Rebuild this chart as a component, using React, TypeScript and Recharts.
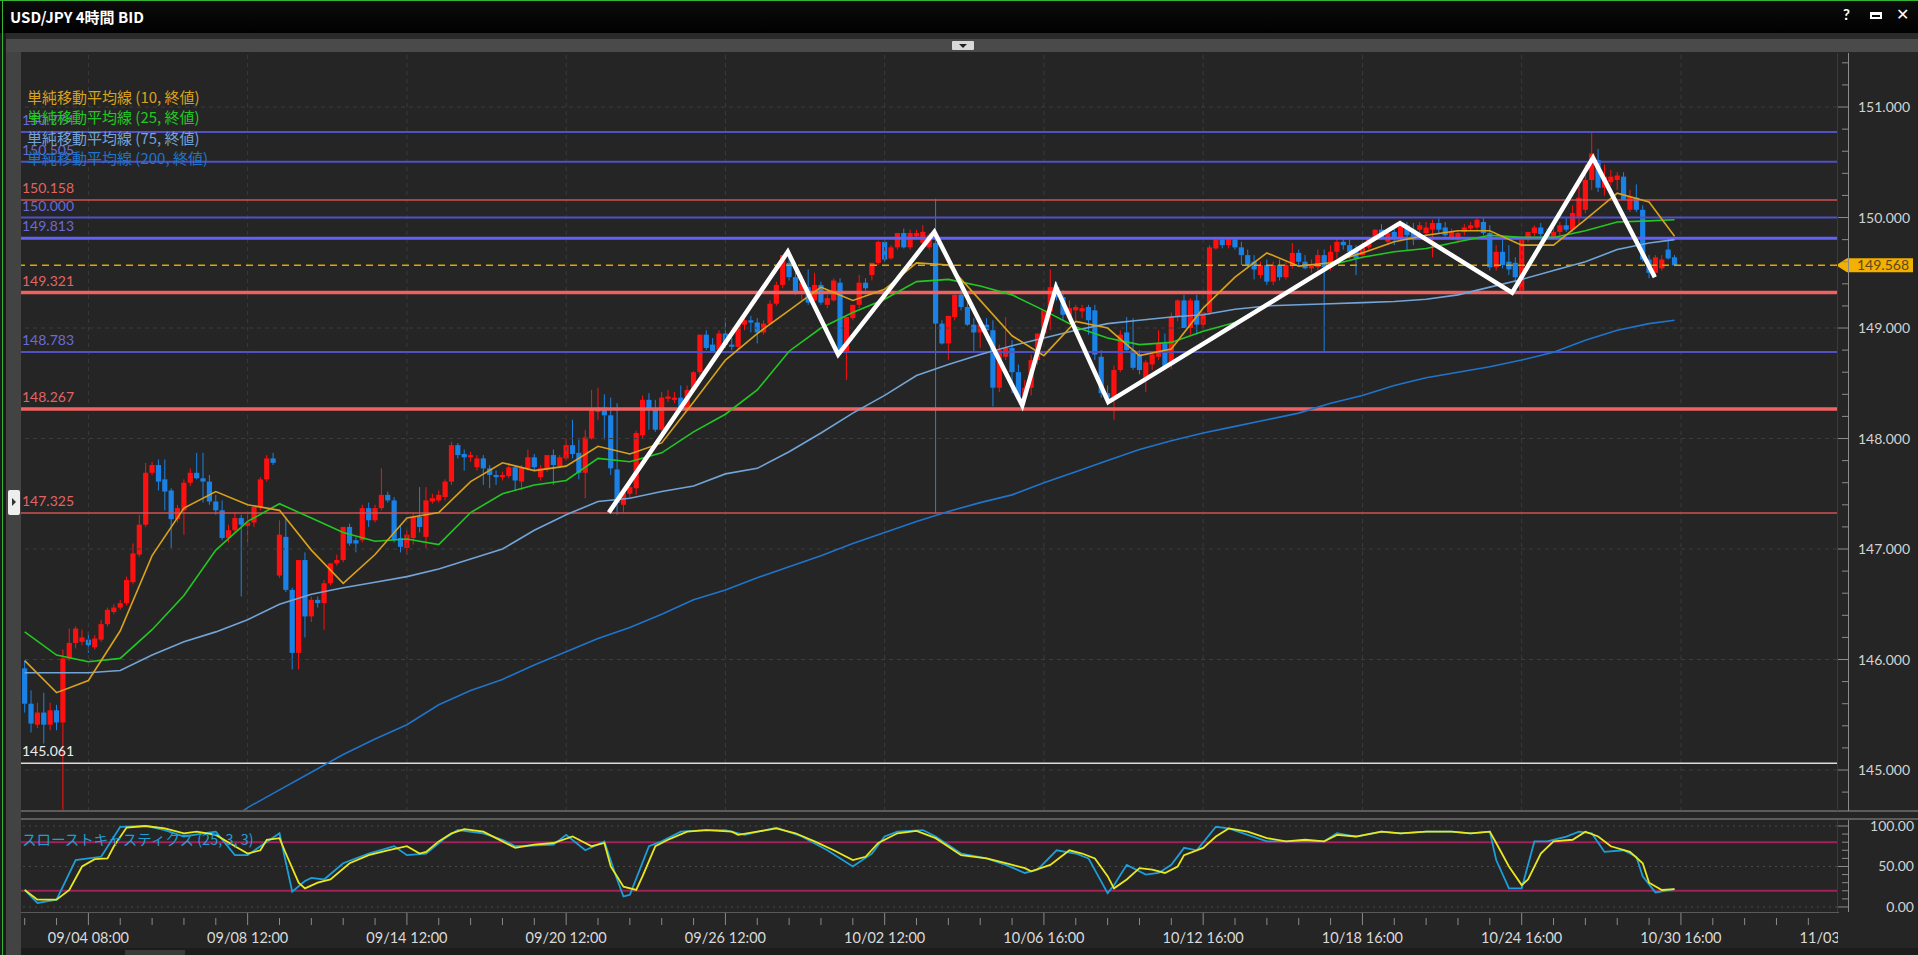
import React from 'react';
import { ComposedChart, Bar, Line, XAxis, YAxis, ReferenceLine } from 'recharts';

const NUM_FONT = 'Lato, "Open Sans", sans-serif';
const JP_FONT = '"Noto Sans CJK JP", "Noto Sans", sans-serif';

/* 4時間足 OHLC, i = 0..259 */
const opens = [
  145.92, 145.60, 145.41, 145.52, 145.41, 145.54, 145.43, 146.01, 146.15, 146.16,
  146.18, 146.11, 146.18, 146.32, 146.43, 146.47, 146.51, 146.70, 146.95, 147.22,
  147.69, 147.76, 147.63, 147.53, 147.27, 147.35, 147.60, 147.69, 147.64, 147.61,
  147.43, 147.35, 147.10, 147.17, 147.28, 147.21, 147.24, 147.38, 147.63, 147.82,
  146.76, 147.11, 146.63, 146.06, 146.90, 146.39, 146.54, 146.51, 146.69, 146.87,
  146.90, 147.20, 147.08, 147.08, 147.37, 147.26, 147.37, 147.49, 147.44, 147.10,
  147.01, 147.10, 147.29, 147.11, 147.43, 147.44, 147.47, 147.61, 147.94, 147.86,
  147.83, 147.74, 147.82, 147.73, 147.67, 147.65, 147.66, 147.74, 147.61, 147.73,
  147.83, 147.65, 147.72, 147.85, 147.75, 147.82, 147.94, 147.87, 147.69, 148.00,
  148.24, 148.28, 148.21, 147.72, 147.40, 147.50, 147.55, 148.03, 148.35, 148.26,
  148.08, 148.36, 148.35, 148.37, 148.28, 148.44, 148.60, 148.94, 148.85, 148.80,
  148.95, 148.85, 148.83, 149.03, 149.07, 149.05, 148.96, 149.04, 149.22, 149.39,
  149.59, 149.46, 149.34, 149.37, 149.25, 149.39, 149.21, 149.25, 149.41, 148.78,
  149.09, 149.21, 149.41, 149.48, 149.59, 149.78, 149.63, 149.73, 149.86, 149.73,
  149.83, 149.77, 149.73, 149.77, 149.04, 148.86, 149.10, 149.30, 149.19, 149.03,
  148.96, 149.03, 148.98, 148.46, 148.74, 148.82, 148.60, 148.38, 148.46, 148.71,
  148.95, 149.15, 149.37, 149.28, 149.09, 149.16, 149.15, 149.19, 149.16, 148.74,
  148.41, 148.37, 148.62, 148.96, 148.80, 148.76, 148.55, 148.67, 148.74, 148.86,
  148.68, 149.10, 149.25, 149.00, 149.25, 149.03, 149.14, 149.72, 149.80, 149.75,
  149.80, 149.73, 149.66, 149.60, 149.48, 149.57, 149.42, 149.57, 149.46, 149.57,
  149.68, 149.60, 149.54, 149.55, 149.66, 149.55, 149.69, 149.78, 149.75, 149.71,
  149.66, 149.73, 149.82, 149.89, 149.78, 149.87, 149.82, 149.93, 149.89, 149.89,
  149.86, 149.89, 149.95, 149.91, 149.82, 149.81, 149.87, 149.90, 149.91, 149.96,
  149.86, 149.55, 149.69, 149.60, 149.59, 149.34, 149.80, 149.86, 149.91, 149.85,
  149.82, 149.87, 149.93, 149.89, 150.00, 150.07, 150.34, 150.52, 150.27, 150.32,
  150.34, 150.37, 150.07, 150.18, 150.07, 149.62, 149.50, 149.54, 149.71, 149.64,
];
const highs = [
  145.99, 145.72, 145.61, 145.70, 145.61, 145.59, 146.09, 146.28, 146.30, 146.27,
  146.25, 146.22, 146.36, 146.47, 146.50, 146.54, 146.75, 147.05, 147.31, 147.78,
  147.79, 147.81, 147.81, 147.55, 147.40, 147.63, 147.73, 147.87, 147.87, 147.67,
  147.49, 147.44, 147.22, 147.33, 147.31, 147.33, 147.40, 147.65, 147.85, 147.87,
  147.26, 147.29, 146.65, 146.90, 146.97, 146.57, 146.57, 146.72, 146.87, 146.95,
  147.20, 147.23, 147.11, 147.40, 147.42, 147.40, 147.73, 147.52, 147.47, 147.22,
  147.17, 147.33, 147.56, 147.56, 147.50, 147.53, 147.63, 147.97, 147.96, 147.90,
  147.88, 147.85, 147.85, 147.76, 147.71, 147.70, 147.78, 147.76, 147.76, 147.90,
  147.86, 147.76, 147.85, 147.90, 147.85, 148.00, 148.17, 147.99, 148.08, 148.44,
  148.46, 148.40, 148.37, 148.32, 147.55, 147.63, 148.07, 148.39, 148.41, 148.35,
  148.42, 148.44, 148.42, 148.48, 148.48, 148.61, 148.94, 148.98, 148.91, 148.98,
  149.09, 148.91, 149.07, 149.12, 149.11, 149.09, 149.07, 149.25, 149.42, 149.66,
  149.69, 149.57, 149.48, 149.53, 149.50, 149.42, 149.30, 149.45, 149.45, 149.10,
  149.21, 149.48, 149.45, 149.59, 149.79, 149.81, 149.75, 149.86, 149.90, 149.89,
  149.89, 149.93, 149.86, 150.17, 149.07, 149.11, 149.30, 149.39, 149.25, 149.09,
  149.07, 149.09, 149.07, 148.85, 149.10, 148.89, 148.67, 148.53, 148.76, 148.95,
  149.16, 149.53, 149.42, 149.34, 149.25, 149.21, 149.21, 149.21, 149.21, 148.80,
  148.48, 148.66, 148.98, 149.10, 149.09, 148.80, 148.71, 148.78, 148.98, 148.95,
  149.14, 149.26, 149.30, 149.27, 149.30, 149.14, 149.75, 149.82, 149.82, 149.81,
  149.82, 149.78, 149.71, 149.66, 149.60, 149.62, 149.60, 149.62, 149.60, 149.77,
  149.71, 149.66, 149.62, 149.71, 149.71, 149.75, 149.81, 149.81, 149.80, 149.75,
  149.78, 149.82, 149.89, 149.94, 149.89, 149.90, 149.93, 149.96, 149.95, 149.96,
  149.96, 149.98, 150.00, 149.96, 149.90, 149.88, 149.94, 149.96, 150.00, 150.00,
  149.93, 149.75, 149.80, 149.75, 149.64, 149.80, 149.87, 149.93, 149.95, 149.90,
  149.93, 149.96, 150.00, 150.11, 150.29, 150.48, 150.77, 150.62, 150.48, 150.43,
  150.41, 150.41, 150.25, 150.30, 150.11, 149.66, 149.66, 149.66, 149.81, 149.66,
];
const lows = [
  145.52, 145.34, 145.38, 145.24, 145.36, 145.36, 144.64, 145.99, 146.10, 146.13,
  146.06, 146.09, 146.16, 146.30, 146.41, 146.45, 146.49, 146.68, 146.93, 147.20,
  147.67, 147.53, 147.35, 147.01, 147.24, 147.13, 147.57, 147.63, 147.42, 147.40,
  147.31, 147.08, 147.06, 147.15, 146.57, 147.06, 147.20, 147.35, 147.61, 147.76,
  146.74, 146.61, 145.91, 145.91, 146.20, 146.34, 146.47, 146.27, 146.67, 146.85,
  146.88, 147.03, 146.97, 147.06, 147.20, 147.24, 147.35, 147.42, 147.06, 146.97,
  146.95, 147.04, 147.15, 147.01, 147.41, 147.42, 147.44, 147.58, 147.82, 147.71,
  147.79, 147.71, 147.58, 147.55, 147.58, 147.62, 147.64, 147.53, 147.53, 147.71,
  147.71, 147.62, 147.70, 147.58, 147.73, 147.80, 147.82, 147.63, 147.46, 147.99,
  148.17, 147.99, 147.67, 147.31, 147.33, 147.46, 147.49, 148.00, 148.08, 148.06,
  148.05, 148.33, 148.32, 148.25, 148.25, 148.42, 148.57, 148.80, 148.78, 148.78,
  148.82, 148.80, 148.80, 148.98, 148.96, 148.86, 148.94, 149.03, 149.20, 149.36,
  149.43, 149.30, 149.25, 149.21, 149.24, 149.21, 149.18, 149.24, 148.78, 148.53,
  149.07, 149.18, 149.34, 149.43, 149.57, 149.60, 149.62, 149.71, 149.72, 149.71,
  149.81, 149.75, 149.71, 147.32, 148.85, 148.71, 149.07, 149.16, 149.02, 148.78,
  148.82, 148.89, 148.29, 148.42, 148.71, 148.41, 148.35, 148.30, 148.39, 148.67,
  148.89, 148.98, 149.25, 149.07, 149.05, 149.07, 149.09, 148.94, 148.71, 148.37,
  148.30, 148.17, 148.60, 148.78, 148.62, 148.58, 148.42, 148.62, 148.71, 148.62,
  148.63, 149.06, 149.00, 148.94, 148.94, 149.00, 149.12, 149.71, 149.72, 149.72,
  149.71, 149.57, 149.54, 149.44, 149.45, 149.39, 149.39, 149.43, 149.44, 149.54,
  149.57, 149.53, 149.50, 149.52, 148.78, 149.52, 149.63, 149.71, 149.63, 149.48,
  149.63, 149.71, 149.80, 149.80, 149.75, 149.75, 149.79, 149.70, 149.75, 149.84,
  149.83, 149.64, 149.86, 149.81, 149.80, 149.77, 149.84, 149.88, 149.89, 149.84,
  149.52, 149.52, 149.54, 149.48, 149.41, 149.32, 149.78, 149.83, 149.82, 149.80,
  149.80, 149.84, 149.87, 149.87, 149.93, 150.04, 150.25, 150.23, 150.20, 150.29,
  150.25, 150.16, 150.05, 150.05, 149.60, 149.45, 149.48, 149.52, 149.62, 149.56,
];
const closes = [
  145.60, 145.42, 145.52, 145.41, 145.54, 145.43, 146.01, 146.15, 146.28, 146.20,
  146.13, 146.19, 146.32, 146.45, 146.47, 146.51, 146.72, 146.96, 147.22, 147.69,
  147.76, 147.61, 147.52, 147.27, 147.37, 147.60, 147.69, 147.64, 147.61, 147.43,
  147.35, 147.10, 147.17, 147.28, 147.22, 147.24, 147.38, 147.63, 147.82, 147.78,
  147.13, 146.63, 146.06, 146.90, 146.39, 146.54, 146.51, 146.69, 146.87, 146.90,
  147.20, 147.05, 147.05, 147.37, 147.26, 147.37, 147.49, 147.44, 147.08, 147.02,
  147.13, 147.29, 147.20, 147.44, 147.46, 147.49, 147.61, 147.94, 147.85, 147.83,
  147.85, 147.82, 147.73, 147.67, 147.65, 147.67, 147.74, 147.62, 147.74, 147.83,
  147.74, 147.73, 147.85, 147.76, 147.83, 147.94, 147.86, 147.69, 148.01, 148.26,
  148.28, 148.21, 147.73, 147.42, 147.51, 147.56, 148.05, 148.35, 148.26, 148.08,
  148.37, 148.38, 148.37, 148.28, 148.44, 148.60, 148.94, 148.82, 148.78, 148.95,
  148.85, 148.83, 149.03, 149.07, 149.05, 148.96, 149.04, 149.22, 149.39, 149.66,
  149.46, 149.33, 149.41, 149.23, 149.39, 149.23, 149.27, 149.43, 148.78, 149.10,
  149.21, 149.41, 149.36, 149.59, 149.78, 149.62, 149.73, 149.86, 149.73, 149.86,
  149.86, 149.87, 149.84, 149.04, 148.86, 149.11, 149.30, 149.19, 149.03, 148.96,
  149.03, 148.98, 148.46, 148.80, 148.82, 148.60, 148.38, 148.46, 148.71, 148.95,
  149.16, 149.37, 149.28, 149.12, 149.18, 149.19, 149.18, 149.07, 148.76, 148.41,
  148.37, 148.62, 148.94, 148.80, 148.64, 148.62, 148.69, 148.76, 148.86, 148.65,
  149.10, 149.25, 149.00, 149.25, 149.03, 149.14, 149.73, 149.80, 149.75, 149.80,
  149.73, 149.66, 149.57, 149.53, 149.57, 149.42, 149.57, 149.46, 149.57, 149.68,
  149.60, 149.54, 149.58, 149.66, 149.55, 149.69, 149.78, 149.75, 149.69, 149.63,
  149.73, 149.82, 149.89, 149.82, 149.86, 149.81, 149.93, 149.84, 149.80, 149.93,
  149.91, 149.95, 149.89, 149.84, 149.87, 149.86, 149.91, 149.93, 149.98, 149.86,
  149.55, 149.69, 149.57, 149.53, 149.46, 149.80, 149.87, 149.91, 149.85, 149.82,
  149.87, 149.93, 149.89, 150.04, 150.18, 150.34, 150.58, 150.27, 150.37, 150.37,
  150.38, 150.16, 150.19, 150.07, 149.62, 149.50, 149.64, 149.62, 149.63, 149.568,
];
const lastPrice = 149.568;

/* 単純移動平均線 — 読み取り値 (5本ごと) */
const maAt = [
  0, 5, 10, 15, 20, 25, 30, 35, 40, 45, 50, 55, 60, 65, 70, 75, 80, 85, 90, 95,
  100, 105, 110, 115, 120, 125, 130, 135, 140, 145, 150, 155, 160, 165, 170, 175,
  180, 185, 190, 195, 200, 205, 210, 215, 220, 225, 230, 235, 240, 245, 250, 255, 259,
];
const ma10Vals = [
  145.99, 145.70, 145.81, 146.26, 146.94, 147.37, 147.52, 147.40, 147.35, 146.99,
  146.69, 146.95, 147.28, 147.33, 147.61, 147.78, 147.71, 147.75, 147.93, 147.86,
  147.96, 148.33, 148.71, 148.95, 149.16, 149.37, 149.25, 149.35, 149.59, 149.57,
  149.25, 148.93, 148.75, 149.06, 149.00, 148.75, 148.81, 149.18, 149.46, 149.68,
  149.56, 149.59, 149.68, 149.78, 149.84, 149.88, 149.88, 149.75, 149.75, 149.98,
  150.22, 150.14, 149.83,
];
const ma25Vals = [
  146.25, 146.04, 145.98, 146.01, 146.27, 146.58, 146.99, 147.25, 147.41, 147.28,
  147.15, 147.07, 147.09, 147.04, 147.33, 147.50, 147.58, 147.62, 147.82, 147.79,
  147.87, 148.06, 148.22, 148.44, 148.79, 149.00, 149.14, 149.26, 149.42, 149.44,
  149.38, 149.30, 149.16, 149.01, 148.91, 148.85, 148.87, 148.97, 149.05, 149.21,
  149.39, 149.57, 149.64, 149.69, 149.72, 149.78, 149.84, 149.82, 149.82, 149.88,
  149.96, 149.97, 149.98,
];
const ma75Vals = [
  145.88, 145.88, 145.88, 145.90, 146.04, 146.16, 146.25, 146.36, 146.50, 146.59,
  146.65, 146.70, 146.75, 146.82, 146.91, 147.00, 147.17, 147.31, 147.43, 147.46,
  147.52, 147.57, 147.68, 147.73, 147.88, 148.05, 148.23, 148.39, 148.57, 148.67,
  148.76, 148.84, 148.91, 148.98, 149.04, 149.07, 149.10, 149.12, 149.17, 149.20,
  149.21, 149.22, 149.23, 149.24, 149.26, 149.30, 149.37, 149.44, 149.52, 149.60,
  149.71, 149.77, 149.80,
];
const ma200At = [
  30, 35, 40, 45, 50, 55, 60, 65, 70, 75, 80, 85, 90, 95, 100, 105, 110, 115, 120,
  125, 130, 135, 140, 145, 150, 155, 160, 165, 170, 175, 180, 185, 190, 195, 200,
  205, 210, 215, 220, 225, 230, 235, 240, 245, 250, 255, 259,
];
const ma200Vals = [
  144.46, 144.66, 144.82, 144.98, 145.14, 145.28, 145.41, 145.59, 145.72, 145.82,
  145.95, 146.07, 146.19, 146.29, 146.41, 146.54, 146.63, 146.74, 146.84, 146.94,
  147.05, 147.15, 147.25, 147.34, 147.42, 147.49, 147.60, 147.70, 147.80, 147.90,
  147.98, 148.05, 148.11, 148.17, 148.23, 148.32, 148.39, 148.48, 148.55, 148.60,
  148.65, 148.71, 148.78, 148.89, 148.98, 149.04, 149.07,
];

/* 手描きのジグザグ (白線) */
const zigAt = [91.7, 119.8, 127.7, 142.8, 156.6, 161.9, 170.1, 215.9, 233.5, 246.2, 255.9];
const zigVals = [147.33, 149.69, 148.76, 149.87, 148.30, 149.37, 148.33, 149.95, 149.32, 150.54, 149.46];

/* 水平ライン */
const levels = [150.774, 150.505, 150.158, 150.0, 149.813, 149.321, 148.783, 148.267, 147.325, 145.061];
const levelKinds = ['blue', 'blue', 'red', 'blue', 'blueStrong', 'redStrong', 'blue', 'redStrong', 'red', 'white'];
const levelStyle: Record<string, { stroke: string; width: number; text: string }> = {
  blue: { stroke: '#5151c4', width: 2, text: '#6a6ad8' },
  blueStrong: { stroke: '#6262f5', width: 3, text: '#6a6ad8' },
  red: { stroke: '#cf5252', width: 1.5, text: '#e06464' },
  redStrong: { stroke: '#f06262', width: 3.5, text: '#e06464' },
  white: { stroke: '#dcdcdc', width: 1.5, text: '#ececec' },
};

/* スローストキャスティクス (25,3,3) */
const kAt = [
  0, 2, 5, 8, 10, 12, 15, 19, 22, 25, 28, 30, 33, 35, 37, 40, 42, 44, 45, 47, 50, 54, 58, 60,
  63, 66, 68, 72, 75, 77, 83, 85, 88, 91, 93, 94, 95, 98, 100, 103, 107, 110, 113, 118, 122,
  126, 130, 133, 135, 137, 141, 143, 147, 151, 154, 157, 159, 162, 165, 167, 170, 171, 173,
  176, 178, 180, 182, 184, 187, 189, 192, 195, 198, 201, 204, 206, 209, 213, 216, 220, 224,
  227, 230, 231, 233, 235, 237, 239, 242, 244, 246, 248, 251, 253, 254, 256, 259,
];
const kVals = [
  21, 5, 9, 58, 60, 62, 99, 100, 95, 87, 91, 93, 64, 64, 75, 91, 19, 32, 36, 34, 54, 66, 75, 64,
  66, 85, 95, 91, 83, 75, 77, 89, 70, 81, 34, 13, 15, 75, 81, 93, 95, 95, 89, 98, 87,
  70, 50, 66, 87, 93, 95, 87, 66, 60, 52, 42, 46, 70, 66, 60, 17, 27, 52,
  40, 42, 52, 73, 70, 99, 97, 89, 81, 81, 81, 81, 91, 87, 93, 91, 93, 93,
  91, 93, 58, 23, 23, 81, 81, 87, 93, 91, 68, 70, 62, 38, 18, 22,
];
const dAt = [
  0, 2, 5, 7, 9, 11, 13, 14, 16, 19, 22, 25, 27, 30, 33, 35, 37, 38, 40, 41, 43, 44, 46, 48,
  51, 54, 57, 60, 62, 63, 65, 67, 69, 72, 74, 77, 80, 83, 86, 88, 89, 91, 92, 94, 96, 97, 99,
  101, 104, 107, 111, 112, 115, 118, 121, 124, 127, 130, 132, 134, 137, 140, 143, 147, 151,
  154, 157, 158, 161, 164, 166, 168, 170, 171, 173, 175, 177, 179, 181, 182, 185, 187, 189,
  192, 195, 198, 201, 204, 206, 209, 213, 216, 220, 224, 227, 230, 231, 233, 235, 236, 238,
  240, 243, 245, 247, 249, 252, 254, 255, 257, 259,
];
const dVals = [
  21, 9, 9, 21, 50, 59, 60, 75, 98, 100, 97, 91, 93, 89, 75, 66, 70, 83, 85, 66, 30, 23, 30, 34,
  54, 64, 70, 75, 66, 68, 81, 91, 96, 93, 85, 73, 77, 79, 87, 79, 75, 79, 50, 25, 21, 38, 75,
  83, 93, 95, 93, 89, 93, 97, 91, 81, 70, 58, 62, 79, 91, 94, 85, 64, 60,
  54, 48, 44, 52, 70, 66, 60, 38, 23, 34, 48, 46, 42, 50, 64, 73, 87, 97,
  93, 85, 81, 83, 81, 89, 87, 93, 91, 93, 93, 91, 93, 79, 50, 27, 34, 66,
  81, 83, 93, 87, 75, 68, 54, 30, 21, 22,
];

/* 軸 */
const priceTicks = [
  144.8, 145.0, 145.2, 145.4, 145.6, 145.8, 146.0, 146.2, 146.4, 146.6, 146.8, 147.0,
  147.2, 147.4, 147.6, 147.8, 148.0, 148.2, 148.4, 148.6, 148.8, 149.0, 149.2, 149.4,
  149.6, 149.8, 150.0, 150.2, 150.4, 150.6, 150.8, 151.0, 151.2, 151.4,
];
const priceGrid = [145, 146, 147, 148, 149, 150, 151];
const stochTicks = [0, 10, 20, 30, 40, 50, 60, 70, 80, 90, 100];
const timeTickAt = [
  0, 5, 10, 15, 20, 25, 30, 35, 40, 45, 50, 55, 60, 65, 70, 75, 80, 85, 90, 95, 100, 105,
  110, 115, 120, 125, 130, 135, 140, 145, 150, 155, 160, 165, 170, 175, 180, 185, 190, 195,
  200, 205, 210, 215, 220, 225, 230, 235, 240, 245, 250, 255, 260, 265, 270, 275, 280, 285,
];
const timeLabelAt = [10, 35, 60, 85, 110, 135, 160, 185, 210, 235, 260, 285];
const timeLabels = [
  '09/04 08:00', '09/08 12:00', '09/14 12:00', '09/20 12:00', '09/26 12:00', '10/02 12:00',
  '10/06 16:00', '10/12 16:00', '10/18 16:00', '10/24 16:00', '10/30 16:00', '11/03 16:00',
];
const maLegend = ['単純移動平均線 (10, 終値)', '単純移動平均線 (25, 終値)', '単純移動平均線 (75, 終値)', '単純移動平均線 (200, 終値)'];
const maColors = ['#d9a21c', '#22c822', '#72a4d8', '#1f74cc'];

const X_DOMAIN: [number, number] = [-0.58, 284.5];
const Y_DOMAIN: [number, number] = [144.629, 151.489];
const S_DOMAIN: [number, number] = [-6.2, 107.4];
const UP = '#ff1010';
const DOWN = '#1a82e6';

const candles = opens.map((o, k) => ({
  i: k, o, h: highs[k], l: lows[k], c: closes[k], range: [lows[k], highs[k]],
}));
const toPts = (at: number[], vals: number[]) => at.map((i, k) => ({ i, v: vals[k] }));
const ma10 = toPts(maAt, ma10Vals);
const ma25 = toPts(maAt, ma25Vals);
const ma75 = toPts(maAt, ma75Vals);
const ma200 = toPts(ma200At, ma200Vals);
const zig = toPts(zigAt, zigVals);
const stochK = toPts(kAt, kVals);
const stochD = toPts(dAt, dVals);

function Candle(props: any) {
  const { x, y, width, height, payload } = props;
  if (!payload || x == null) return null;
  const { o, h, l, c } = payload;
  const top = Math.min(y, y + height);
  const bot = Math.max(y, y + height);
  const span = h - l || 1e-9;
  const toY = (v: number) => top + ((h - v) / span) * (bot - top);
  const cx = x + width / 2;
  const color = c >= o ? UP : DOWN;
  const yo = toY(o);
  const yc = toY(c);
  return (
    <g>
      <line x1={cx} x2={cx} y1={top} y2={bot} stroke={color} strokeWidth={1} />
      <rect x={cx - 2.6} y={Math.min(yo, yc)} width={5.2} height={Math.max(1, Math.abs(yc - yo))} fill={color} />
    </g>
  );
}

function PriceTick(props: any) {
  const { x, y, payload } = props;
  const v = payload.value;
  const major = Math.abs(v - Math.round(v)) < 1e-6;
  return (
    <g>
      <line x1={x + (major ? 0 : 5)} x2={x + 11} y1={y} y2={y} stroke="#8c8c8c" />
      {major && (
        <text x={x + 21} y={y + 5} fill="#d2d2d2" fontSize={14} fontFamily={NUM_FONT}>
          {v.toFixed(3)}
        </text>
      )}
    </g>
  );
}

function StochTick(props: any) {
  const { x, y, payload } = props;
  const v = payload.value;
  const major = v % 50 === 0;
  return (
    <g>
      <line x1={x + (major ? 0 : 5)} x2={x + 11} y1={y} y2={y} stroke="#8c8c8c" />
      {major && (
        <text x={x + 77} y={y + 5} textAnchor="end" fill="#d2d2d2" fontSize={14} fontFamily={NUM_FONT}>
          {v.toFixed(2)}
        </text>
      )}
    </g>
  );
}

function TimeTick(props: any) {
  const { x, y, payload } = props;
  const k = timeLabelAt.indexOf(payload.value);
  const major = k >= 0;
  return (
    <g clipPath="url(#timeClip)">
      <line x1={x} x2={x} y1={y + (major ? 1 : 6)} y2={y + 13} stroke="#8a8a8a" />
      {major && (
        <text x={x} y={y + 31} textAnchor="middle" fill="#dadada" fontSize={14.5} fontFamily={NUM_FONT}>
          {timeLabels[k]}
        </text>
      )}
    </g>
  );
}

const levelLabel = (text: string, color: string) => (p: any) => {
  const vb = p.viewBox || {};
  return (
    <text x={(vb.x || 0) + 1} y={(vb.y || 0) - 7} fill={color} fontSize={14} fontFamily={NUM_FONT}>
      {text}
    </text>
  );
};

const priceTag = (p: any) => {
  const vb = p.viewBox || {};
  const yy = vb.y || 0;
  const x0 = (vb.x || 0) + (vb.width || 0) - 1;
  return (
    <g>
      <polygon points={`${x0},${yy} ${x0 + 11},${yy - 7} ${x0 + 77},${yy - 7} ${x0 + 77},${yy + 7} ${x0 + 11},${yy + 7}`} fill="#f3b000" />
      <text x={x0 + 21} y={yy + 5} fill="#5b4a1a" fontSize={14} fontFamily={NUM_FONT}>{lastPrice.toFixed(3)}</text>
    </g>
  );
};

function MainChart() {
  return (
    <ComposedChart width={1918} height={811} data={candles} margin={{ top: 53, right: 0, bottom: 0, left: 21 }}>
      <XAxis dataKey="i" type="number" domain={X_DOMAIN} allowDataOverflow hide />
      <YAxis
        orientation="right" width={81} domain={Y_DOMAIN} allowDataOverflow ticks={priceTicks}
        interval={0} axisLine={false} tickLine={false} tickSize={0} tickMargin={0} tick={<PriceTick />}
      />
      {priceGrid.map((v) => (
        <ReferenceLine key={'g' + v} y={v} stroke="#3c3c3c" strokeDasharray="4 4" />
      ))}
      {timeLabelAt.map((v) => (
        <ReferenceLine key={'t' + v} x={v} stroke="#3c3c3c" strokeDasharray="4 4" />
      ))}
      {levels.map((v, k) => {
        const s = levelStyle[levelKinds[k]];
        return (
          <ReferenceLine key={'l' + v} y={v} stroke={s.stroke} strokeWidth={s.width} label={levelLabel(v.toFixed(3), s.text)} />
        );
      })}
      <ReferenceLine y={lastPrice} stroke="#e2a400" strokeWidth={1.5} strokeDasharray="7 5" label={priceTag} />
      <Bar dataKey="range" barSize={5} shape={<Candle />} isAnimationActive={false} />
      <Line data={ma200} dataKey="v" stroke={maColors[3]} strokeWidth={1.6} dot={false} isAnimationActive={false} />
      <Line data={ma75} dataKey="v" stroke={maColors[2]} strokeWidth={1.6} dot={false} isAnimationActive={false} />
      <Line data={ma25} dataKey="v" stroke={maColors[1]} strokeWidth={1.6} dot={false} isAnimationActive={false} />
      <Line data={ma10} dataKey="v" stroke={maColors[0]} strokeWidth={1.6} dot={false} isAnimationActive={false} />
      <Line data={zig} dataKey="v" stroke="#ffffff" strokeWidth={4.5} dot={false} strokeLinejoin="miter" isAnimationActive={false} />
    </ComposedChart>
  );
}

function StochChart() {
  return (
    <ComposedChart width={1918} height={144} margin={{ top: 9, right: 0, bottom: 0, left: 21 }}>
      <defs>
        <clipPath id="timeClip">
          <rect x={0} y={0} width={1838} height={144} />
        </clipPath>
      </defs>
      <XAxis
        dataKey="i" type="number" domain={X_DOMAIN} allowDataOverflow ticks={timeTickAt} interval={0}
        height={43} axisLine={false} tickLine={false} tickSize={0} tickMargin={0} tick={<TimeTick />}
      />
      <YAxis
        orientation="right" width={81} domain={S_DOMAIN} allowDataOverflow ticks={stochTicks}
        interval={0} axisLine={false} tickLine={false} tickSize={0} tickMargin={0} tick={<StochTick />}
      />
      {[0, 50, 100].map((v) => (
        <ReferenceLine key={'s' + v} y={v} stroke="#4a4a4a" strokeDasharray="2 4" />
      ))}
      <ReferenceLine y={80} stroke="#a3215a" strokeWidth={2} />
      <ReferenceLine y={20} stroke="#a3215a" strokeWidth={2} />
      <Line data={stochK} dataKey="v" stroke="#1c9fd8" strokeWidth={1.8} dot={false} isAnimationActive={false} />
      <Line data={stochD} dataKey="v" stroke="#e8e81e" strokeWidth={1.8} dot={false} isAnimationActive={false} />
    </ComposedChart>
  );
}

export default function App() {
  const abs = (s: React.CSSProperties): React.CSSProperties => ({ position: 'absolute', ...s });
  return (
    <div style={{ position: 'relative', width: 1918, height: 955, background: '#252525', overflow: 'hidden', fontFamily: NUM_FONT }}>
      <style>{'body{margin:0;background:#000;}'}</style>
      {/* タイトルバー */}
      <div style={abs({ left: 0, top: 0, width: 1918, height: 33, background: 'linear-gradient(#0c0c0c, #000)', borderTop: '1px solid #36b336' })} />
      <div style={abs({ left: 10, top: 6, color: '#fff', fontWeight: 700, fontSize: 15, fontFamily: JP_FONT })}>USD/JPY 4時間 BID</div>
      <div style={abs({ left: 1843, top: 5, color: '#fff', fontSize: 15, fontWeight: 700 })}>?</div>
      <div style={abs({ left: 1870, top: 12, width: 12, height: 7, border: '2px solid #fff', borderTopWidth: 3, boxSizing: 'border-box' })} />
      <div style={abs({ left: 1896, top: 4, color: '#fff', fontSize: 16 })}>✕</div>
      <div style={abs({ left: 0, top: 33, width: 1918, height: 6, background: '#2a2a2a' })} />
      <div style={abs({ left: 6, top: 39, width: 1912, height: 13, background: '#4a4a4a' })} />
      <div style={abs({ left: 952, top: 41, width: 22, height: 9, background: '#d8d8d8', borderRadius: 1 })} />
      <div style={abs({ left: 959, top: 44, width: 0, height: 0, borderLeft: '4px solid transparent', borderRight: '4px solid transparent', borderTop: '4px solid #222' })} />
      {/* 左の帯 */}
      <div style={abs({ left: 0, top: 33, width: 6, height: 922, background: '#1a1a1a' })} />
      <div style={abs({ left: 2, top: 0, width: 1, height: 955, background: '#36b336' })} />
      <div style={abs({ left: 6, top: 52, width: 15, height: 903, background: '#434343' })} />
      <div style={abs({ left: 8, top: 490, width: 12, height: 25, background: '#eeeeee', borderRadius: 2 })} />
      <div style={abs({ left: 12, top: 498, width: 0, height: 0, borderTop: '4px solid transparent', borderBottom: '4px solid transparent', borderLeft: '4px solid #333' })} />

      <div style={abs({ left: 0, top: 0 })}>
        <MainChart />
      </div>
      <div style={abs({ left: 0, top: 811 })}>
        <StochChart />
      </div>

      {/* 枠線・軸線 */}
      <div style={abs({ left: 21, top: 810, width: 1897, height: 2, background: '#5c5c5c' })} />
      <div style={abs({ left: 21, top: 818, width: 1897, height: 2, background: '#5c5c5c' })} />
      <div style={abs({ left: 21, top: 912, width: 1818, height: 1, background: '#5a5a5a' })} />
      <div style={abs({ left: 1837, top: 53, width: 1, height: 758, background: '#3a3a3a' })} />
      <div style={abs({ left: 1837, top: 820, width: 1, height: 92, background: '#3a3a3a' })} />
      <div style={abs({ left: 1848, top: 53, width: 1, height: 758, background: '#8c8c8c' })} />
      <div style={abs({ left: 1848, top: 820, width: 1, height: 92, background: '#8c8c8c' })} />
      <div style={abs({ left: 21, top: 948, width: 1897, height: 7, background: '#1c1c1c' })} />
      <div style={abs({ left: 125, top: 950, width: 60, height: 5, background: '#3a3a3a' })} />

      {/* 凡例 */}
      <div style={abs({ left: 27, top: 87, fontFamily: JP_FONT, fontSize: 15, lineHeight: '20.4px', whiteSpace: 'nowrap' })}>
        {maLegend.map((t, k) => (
          <div key={k} style={{ color: maColors[k] }}>{t}</div>
        ))}
      </div>
      <div style={abs({ left: 22, top: 828, fontFamily: JP_FONT, fontSize: 14.5, color: '#1e9ed4', whiteSpace: 'nowrap' })}>
        スローストキャスティクス (25, 3, 3)
      </div>
    </div>
  );
}
